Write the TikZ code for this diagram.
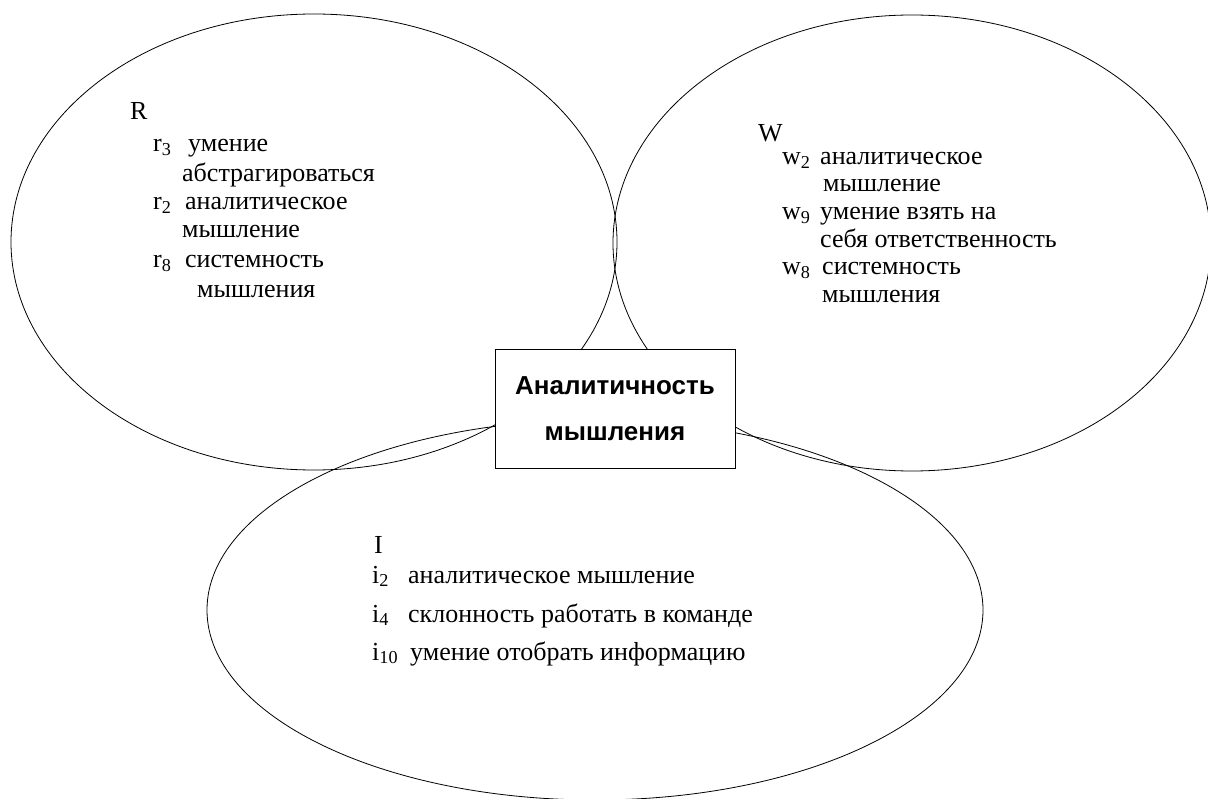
\documentclass[tikz,border=0pt]{standalone}
\usepackage{fontspec}
\setmainfont{Liberation Serif}
\newfontfamily\corefont{Liberation Sans}
\usetikzlibrary{shapes}

\newcommand{\lbl}[3]{\makebox[#1pt][l]{#2\textsubscript{#3}}}

\begin{document}
\begin{tikzpicture}[x=1pt,y=-1pt,
        oval/.style={ellipse,draw,line width=0.8pt,inner sep=0pt},
        item/.style={anchor=base west,inner sep=0pt,font=\fontsize{26}{29}\selectfont},
        core/.style={rectangle,draw,fill=white,line width=1pt,align=center,
          minimum width=240,minimum height=119,font=\corefont\bfseries\fontsize{26}{46}\selectfont}]

  \useasboundingbox (0,0) rectangle (1208,799);

  \node[oval,minimum width=606,minimum height=456] (R) at (314,242) {};
  \node[oval,minimum width=598,minimum height=456] (W) at (912,243) {};
  \node[oval,minimum width=776,minimum height=380] (I) at (595,610) {};

  \node[core] (core) at (615,409) {Аналитичность\\мышления};

  \node[item] (Rlab) at (130,120) {R};
  \node[item] (r3)  at (153,152) {\lbl{35}{r}{3}умение};
  \node[item] (r3a) at (182,182) {абстрагироваться};
  \node[item] (r2)  at (153,210) {\lbl{32}{r}{2}аналитическое};
  \node[item] (r2a) at (182,238) {мышление};
  \node[item] (r8)  at (153,268) {\lbl{32}{r}{8}системность};
  \node[item] (r8a) at (197,298) {мышления};

  \node[item] (Wlab) at (758,142) {W};
  \node[item] (w2)  at (782,165) {\lbl{38}{w}{2}аналитическое};
  \node[item] (w2a) at (823,192) {мышление};
  \node[item] (w9)  at (782,220) {\lbl{38}{w}{9}умение взять на};
  \node[item] (w9a) at (820,248) {себя ответственность};
  \node[item] (w8)  at (782,275) {\lbl{40}{w}{8}системность};
  \node[item] (w8a) at (822,303) {мышления};

  \node[item] (Ilab) at (374,553) {I};
  \node[item] (i2)  at (372,583) {\lbl{36}{i}{2}аналитическое мышление};
  \node[item] (i4)  at (372,622) {\lbl{36}{i}{4}склонность работать в команде};
  \node[item] (i10) at (372,660) {\lbl{38}{i}{10}умение отобрать информацию};

\end{tikzpicture}
\end{document}
